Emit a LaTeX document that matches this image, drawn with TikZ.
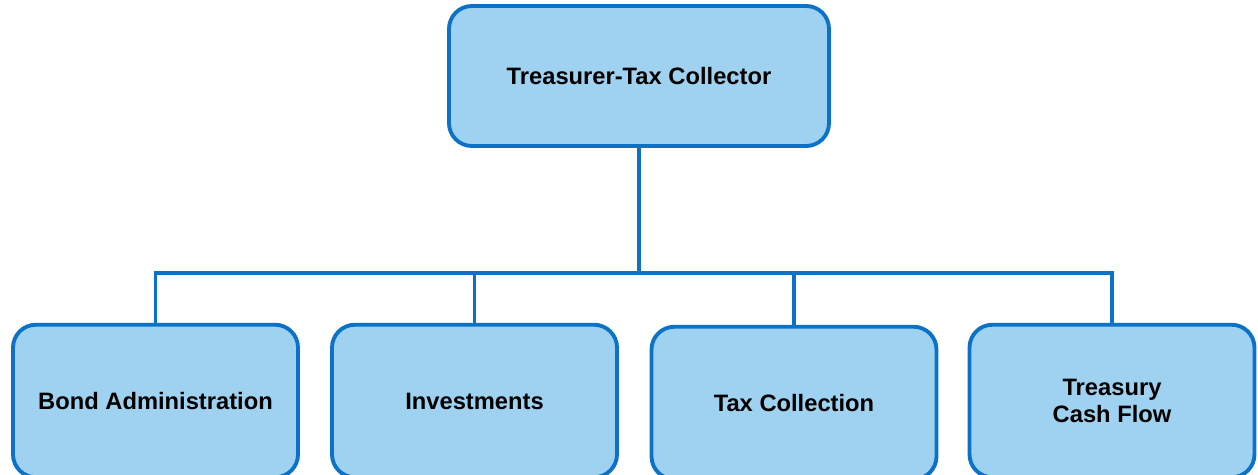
\documentclass[tikz,border=0pt]{standalone}
\usepackage{fontspec}
\setmainfont{Liberation Sans}
\usepackage{xcolor}
\definecolor{boxfill}{HTML}{9FD2F0}
\definecolor{boxline}{HTML}{0B72C8}
\begin{document}
\begin{tikzpicture}[
  font=\fontsize{13.5}{15.4}\selectfont\bfseries,
  unit/.style={draw=boxline, fill=boxfill, line width=2.2pt, rounded corners=13pt,
               align=center, inner sep=4pt},
  link/.style={draw=boxline, line width=2.2pt}]
  \useasboundingbox (0,0) rectangle (25.16,-9.5);
  \node[unit, minimum width=7.6cm, minimum height=2.8cm] (head) at (12.78,-1.52)
    {Treasurer-Tax Collector};
  \node[unit, minimum width=5.7cm, minimum height=3.05cm] (bond) at (3.11,-8.02)
    {Bond Administration};
  \node[unit, minimum width=5.7cm, minimum height=3.05cm] (invest) at (9.49,-8.02)
    {Investments};
  \node[unit, minimum width=5.7cm, minimum height=3.05cm] (taxcol) at (15.88,-8.06)
    {Tax Collection};
  \node[unit, minimum width=5.7cm, minimum height=3.05cm] (cash) at (22.24,-8.02)
    {Treasury\\Cash Flow};
  \coordinate (bus) at (0,-5.46);
  \draw[link] (head.south) -- (head.south |- bus);
  \draw[link] (bond.north) |- (cash.north |- bus) -- (cash.north);
  \draw[link] (invest.north) -- (invest.north |- bus);
  \draw[link] (taxcol.north) -- (taxcol.north |- bus);
\end{tikzpicture}
\end{document}
